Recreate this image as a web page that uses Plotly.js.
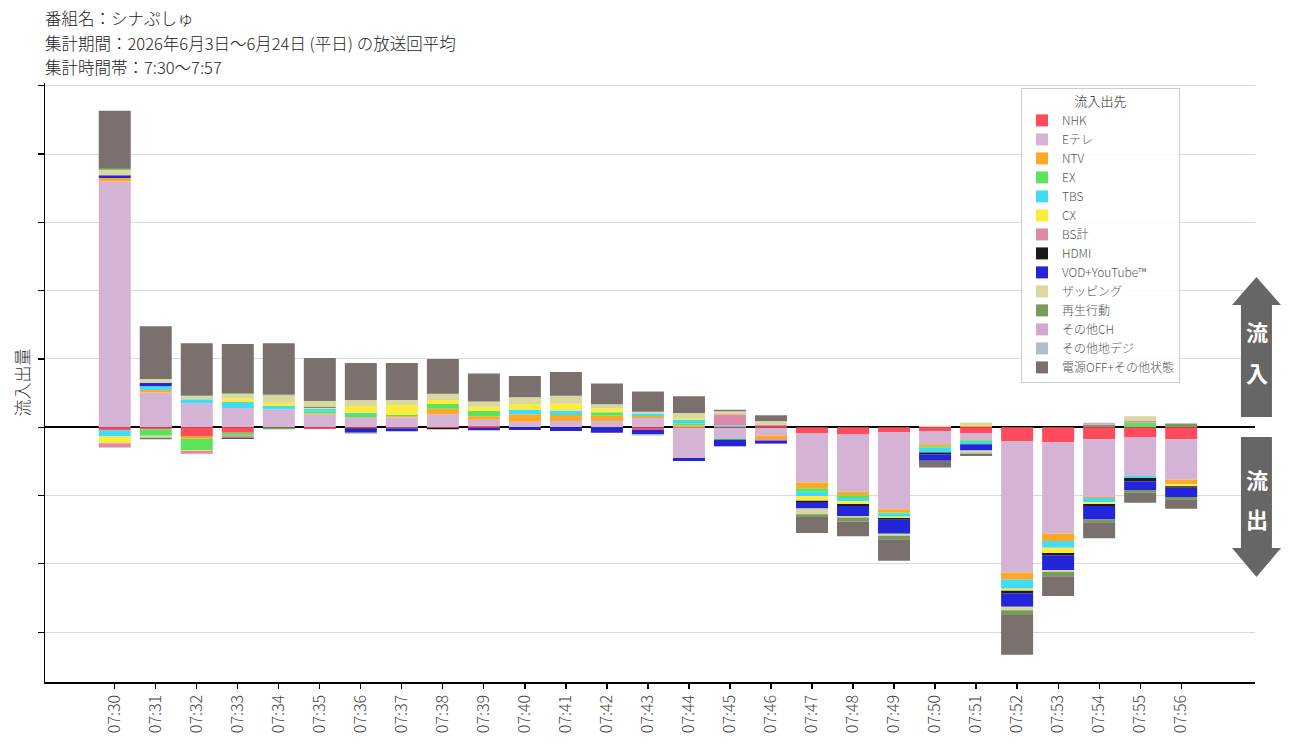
<!DOCTYPE html>
<html>
<head>
<meta charset="utf-8">
<script src="https://cdn.plot.ly/plotly-3.0.1.min.js"></script>
<style>
  html, body { margin: 0; padding: 0; background: #fff; }
  #myDiv { width: 1294px; height: 748px; }
</style>
</head>
<body>
<div id="myDiv"></div>
<script>
//  ======== DATA ========
const times = ['07:30','07:31','07:32','07:33','07:34','07:35','07:36','07:37','07:38','07:39','07:40','07:41','07:42','07:43',
  '07:44','07:45','07:46','07:47','07:48','07:49','07:50','07:51','07:52','07:53','07:54','07:55','07:56'];

const seriesNames = ['NHK','Eテレ','NTV','EX','TBS','CX','BS計','HDMI','VOD+YouTube™','ザッピング','再生行動','その他CH','その他地デジ','電源OFF+その他状態'];
const seriesColors = ['#ff4b5c','#d5b3d5','#ffa726','#5be35b','#40dcf5','#ffeb3b','#dd8aa8','#1a1a1a','#2424d8','#d8d8a0','#789a5a','#d2a8d0','#b0bec5','#7a706e'];

const titleLines = ['番組名：シナぷしゅ', '集計期間：2026年6月3日〜6月24日 (平日) の放送回平均', '集計時間帯：7:30〜7:57'];

// inflow (plus side)
const nhkIn    = [0,0,0,0,0,0,0,0,0,0.2,0,0,0,0,0,0,0.15,0,0,0,0,0,0,0,0,0,0];
const eteleIn  = [36.0,5.1,3.5,2.8,2.6,1.9,1.5,1.45,1.9,0.9,0.8,0.9,0.9,1.35,0,0,0,0,0,0,0,0,0,0,0,0,0];
const ntvIn    = [0.5,0.35,0,0,0,0.1,0,0.15,0.8,0.5,1.1,0.9,0.8,0.3,0.3,0,0,0,0,0,0,0.25,0,0,0,0,0];
const exIn     = [0,0,0,0,0,0.35,0.45,0.2,0.7,0.8,0,0,0.5,0,0.3,0,0,0,0,0,0,0,0,0,0,0.7,0];
const tbsIn    = [0,0.55,0.6,0.9,0.5,0.4,0.15,0,0,0,0.7,0.65,0,0.35,0.55,0.25,0,0,0,0,0,0,0,0,0,0,0];
const cxIn     = [0,0,0,0.5,0.5,0.15,1.0,1.45,0.6,0.6,0.8,1.0,0.5,0,0.2,0,0,0,0,0,0,0,0,0,0,0,0];
const bsIn     = [0,0,0,0,0,0,0,0,0,0,0,0,0,0,0,1.65,0.25,0,0,0,0,0,0,0,0,0.3,0];
const hdmiIn   = [0,0,0,0,0,0.1,0,0,0,0,0,0,0,0,0,0,0,0,0,0,0,0,0,0,0,0,0];
const vodIn    = [0.4,0.5,0,0,0,0,0,0,0,0,0,0,0,0,0,0,0,0,0,0,0,0,0,0,0,0,0];
const zapIn    = [0.8,0.55,0.5,0.7,1.1,0.85,0.9,0.75,0.9,0.75,1.0,1.15,0.65,0.25,0.75,0.45,0.5,0,0,0,0.2,0.45,0,0,0,0.6,0];
const playIn   = [0.25,0,0,0.1,0.1,0,0,0,0,0,0,0,0,0,0,0,0,0,0,0,0,0,0,0,0.35,0,0.55];
const otherChIn   = [0,0,0,0,0,0,0,0,0,0,0,0,0,0,0,0,0,0,0,0,0,0,0,0,0.3,0,0];
const otherDigiIn = [0,0,0,0,0,0,0,0,0,0,0,0,0,0,0,0,0,0,0,0,0,0,0,0,0,0,0];
const offIn    = [8.4,7.75,7.7,7.2,7.5,6.3,5.4,5.4,5.1,4.1,3.1,3.5,3.05,3.0,2.45,0.2,0.85,0,0,0,0,0,0,0,0,0,0];

// outflow (minus side)
const nhkOut   = [-0.45,-0.3,-1.3,-0.8,0,-0.25,-0.15,-0.15,-0.1,-0.1,0,0,-0.05,-0.35,0,-0.2,-0.1,-0.9,-1.0,-0.7,-0.55,-0.85,-2.05,-2.2,-1.75,-1.5,-1.75];
const eteleOut = [0,0,0,0,0,0,0,0,0,0,0,0,0,0,-4.5,-1.4,-1.1,-7.2,-8.45,-11.3,-1.95,-1.05,-19.2,-13.35,-8.45,-5.65,-5.95];
const ntvOut   = [0,0,-0.4,0,0,0,0,0,0,0,0,0,0,0,0,0,-0.55,-0.85,-0.5,-0.5,-0.3,0,-1.05,-1.1,-0.15,0,-0.65];
const exOut    = [0,-0.95,-1.65,-0.45,0,0,0,0,0,0,0,0,0,0,0,-0.2,0,-0.5,-0.4,-0.15,-0.2,-0.25,0,0,0,0,0];
const tbsOut   = [-0.9,0,0,0,0,0,0,0,0,0,0,0,0,0,0,0,0,-0.6,-0.5,-0.45,-0.7,-0.35,-1.35,-1.0,-0.65,-0.3,0];
const cxOut    = [-1.0,0,-0.1,0,0,0,0,0,0,0,0,0,0,0,0,0,0,-0.7,-0.4,-0.2,0,0,-0.3,-0.75,-0.25,0,-0.3];
const bsOut    = [-0.6,0,-0.45,-0.3,0,0,0,0,0,0,0,0,0,0,0,0,-0.2,0,0,0,0,0,0,0,0,0,0];
const hdmiOut  = [0,0,0,-0.15,0,0,-0.1,0,-0.2,0,0,0,0,0,0,0,0,-0.2,-0.3,-0.25,-0.25,0,-0.35,-0.35,-0.3,-0.45,-0.2];
const vodOut   = [0,0,0,0,0,0,-0.55,-0.45,0,-0.35,-0.4,-0.55,-0.75,-0.65,-0.45,-1.0,-0.45,-0.95,-1.45,-2.05,-0.95,-0.9,-2.0,-2.2,-1.95,-1.3,-1.35];
const zapOut   = [0,-0.3,0,0,0,0,0,0,0,0,0,0,0,0,0,0,0,-0.85,-0.2,-0.3,0,-0.25,-0.5,-0.25,0,0,0];
const playOut  = [0,0,0,0,-0.3,0,0,0,0,0,0,0,0,0,0,0,0,-0.4,-0.6,-0.5,0,0,-0.7,-0.6,-0.4,-0.35,-0.35];
const otherChOut   = [0,0,0,0,0,0,0,0,0,0,0,0,0,0,0,0,0,0,0,0,0,0,0,0,0,0,0];
const otherDigiOut = [0,0,0,0,0,0,-0.15,0,0,0,0,0,0,-0.2,0,-0.1,0,0,0,0,0,-0.25,0,0,0,0,0];
const offOut   = [0,-0.2,0,0,0,0,0,0,0,0,0,0,0,0,0,0,0,-2.35,-2.15,-3.15,-1.0,-0.3,-5.8,-2.9,-2.35,-1.5,-1.4];

const inflows  = [nhkIn, eteleIn, ntvIn, exIn, tbsIn, cxIn, bsIn, hdmiIn, vodIn, zapIn, playIn, otherChIn, otherDigiIn, offIn];
const outflows = [nhkOut, eteleOut, ntvOut, exOut, tbsOut, cxOut, bsOut, hdmiOut, vodOut, zapOut, playOut, otherChOut, otherDigiOut, offOut];

//  ======== PLOTLY ========
const FONT = '"Noto Sans CJK JP", "Noto Sans", sans-serif';
var data = [];

seriesNames.forEach((name, i) => {
  data.push({
    type: 'bar', x: times, y: inflows[i], name: name,
    legendgroup: name, showlegend: true,
    marker: { color: seriesColors[i], line: { width: 0 } }
  });
});
seriesNames.forEach((name, i) => {
  data.push({
    type: 'bar', x: times, y: outflows[i], name: name,
    legendgroup: name, showlegend: false,
    marker: { color: seriesColors[i], line: { width: 0 } }
  });
});

// paper coords helpers (plot area: x 45..1255, y 83..682 px)
function px(x) { return (x - 45) / 1210; }
function py(y) { return (682 - y) / 599; }

var annotations = [];
// title lines, one annotation each so the spacing stays tight
[18.5, 42.5, 66.5].forEach((yy, i) => {
  annotations.push({
    xref: 'paper', yref: 'paper', x: px(43), y: py(yy), xanchor: 'left', yanchor: 'middle', align: 'left',
    showarrow: false, text: titleLines[i],
    font: { size: 16.5, color: '#222', family: FONT, weight: 300 }
  });
});
// arrow captions
[['流', 331], ['入', 372], ['流', 479], ['出', 518]].forEach(c => {
  annotations.push({
    xref: 'paper', yref: 'paper', x: px(1257), y: py(c[1]), xanchor: 'center', yanchor: 'middle',
    showarrow: false, text: c[0],
    font: { size: 22, color: '#ffffff', family: FONT, weight: 'bold' }
  });
});

var layout = {
  width: 1294,
  height: 748,
  barmode: 'relative',
  bargap: 0.22,
  font: { family: FONT, color: '#333' },
  margin: { l: 45, r: 39, t: 83, b: 66, pad: 0 },
  plot_bgcolor: '#fff',
  paper_bgcolor: '#fff',
  showlegend: true,
  legend: {
    x: px(1021), y: py(88), xanchor: 'left', yanchor: 'top',
    traceorder: 'normal',
    bgcolor: 'rgba(255,255,255,0.85)',
    bordercolor: '#cccccc', borderwidth: 1,
    font: { size: 12, color: '#555', family: FONT, weight: 300 },
    title: { text: '流入出先', side: 'top center', font: { size: 13, color: '#222', family: FONT } }
  },
  xaxis: {
    type: 'category',
    range: [-1.7, 27.8],
    tickangle: -90,
    ticks: 'outside', ticklen: 5, tickwidth: 1.2, tickcolor: '#000',
    showline: true, linecolor: '#000', linewidth: 1.5,
    showgrid: false,
    tickfont: { size: 16, color: '#444', family: FONT, weight: 300 }
  },
  yaxis: {
    range: [-37.3, 50.4],
    tick0: 0, dtick: 10,
    showticklabels: false,
    ticks: 'outside', ticklen: 6, tickwidth: 1.2, tickcolor: '#000',
    showline: true, linecolor: '#000', linewidth: 1.5,
    showgrid: true, gridcolor: '#dadada', gridwidth: 1,
    zeroline: true, zerolinecolor: '#000', zerolinewidth: 1.5,
    title: { text: '流入出量', standoff: 3, font: { size: 17, color: '#333', family: FONT, weight: 300 } }
  },
  shapes: [
    { type: 'path', xref: 'paper', yref: 'paper', fillcolor: '#666666', line: { width: 0 }, layer: 'above',
      path: 'M 0.9884 0.4424 L 0.9884 0.6294 L 0.9810 0.6294 L 1.0012 0.6761 L 1.0215 0.6294 L 1.0140 0.6294 L 1.0140 0.4424 Z' },
    { type: 'path', xref: 'paper', yref: 'paper', fillcolor: '#666666', line: { width: 0 }, layer: 'above',
      path: 'M 0.9884 0.4090 L 0.9884 0.2237 L 0.9810 0.2237 L 1.0012 0.1753 L 1.0215 0.2237 L 1.0140 0.2237 L 1.0140 0.4090 Z' }
  ],
  annotations: annotations
};

Plotly.newPlot('myDiv', data, layout, { displayModeBar: false, staticPlot: true });
</script>
</body>
</html>
